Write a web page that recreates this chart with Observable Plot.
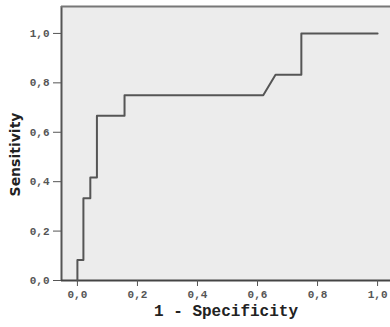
<!DOCTYPE html>
<html>
<head>
<meta charset="utf-8">
<script src="https://cdn.jsdelivr.net/npm/d3@7"></script>
<script src="https://cdn.jsdelivr.net/npm/@observablehq/plot@0.6"></script>
<style>
  html, body { margin: 0; padding: 0; background: #fff; }
</style>
</head>
<body>
<div id="chart"></div>
<script>
// ROC curve points (1 - specificity, sensitivity)
const fpr = [0, 0, 0.02, 0.02, 0.043, 0.043, 0.065, 0.065, 0.157, 0.157, 0.619, 0.66, 0.746, 0.746, 1.0];
const tpr = [0, 0.083, 0.083, 0.333, 0.333, 0.417, 0.417, 0.667, 0.667, 0.75, 0.75, 0.833, 0.833, 1.0, 1.0];
const tickValues = [0, 0.2, 0.4, 0.6, 0.8, 1.0];
const xLabel = "1 - Specificity";
const yLabel = "Sensitivity";

const data = fpr.map((x, i) => ({x, y: tpr[i]}));
const fmt = d => d.toFixed(1).replace(".", ",");
const xDomain = [-0.053, 1.043];
const yDomain = [0, 1.109];
const mono = "'Liberation Mono', 'Courier New', monospace";

const chart = Plot.plot({
  width: 390,
  height: 327,
  marginLeft: 61,
  marginRight: 0,
  marginTop: 6,
  marginBottom: 47,
  x: {domain: xDomain},
  y: {domain: yDomain},
  marks: [
    Plot.frame({fill: "#ececec", stroke: "none"}),
    Plot.ruleX([xDomain[0]], {stroke: "#555", strokeWidth: 2}),
    Plot.ruleY([yDomain[1]], {stroke: "#777", strokeWidth: 2}),
    Plot.ruleY([0], {stroke: "#444", strokeWidth: 2}),
    Plot.axisX({ticks: tickValues, tickFormat: fmt, tickSize: 6, tickPadding: 4, fontSize: 11, fontWeight: "bold", fontFamily: mono, color: "#555", label: null}),
    Plot.axisY({ticks: tickValues, tickFormat: fmt, tickSize: 8, tickPadding: 4, fontSize: 11, fontWeight: "bold", fontFamily: mono, color: "#555", label: null}),
    Plot.line(data, {x: "x", y: "y", stroke: "#555", strokeWidth: 2}),
    Plot.text([xLabel], {frameAnchor: "bottom", dy: 35, fontSize: 16, fontWeight: "bold", fontFamily: mono, fill: "#222"}),
    Plot.text([yLabel], {frameAnchor: "left", textAnchor: "middle", dx: -46, dy: 11, rotate: -90, fontSize: 14, fontWeight: "bold", fontFamily: "'DejaVu Sans', sans-serif", fill: "#222"})
  ]
});
document.getElementById("chart").appendChild(chart);
</script>
</body>
</html>
